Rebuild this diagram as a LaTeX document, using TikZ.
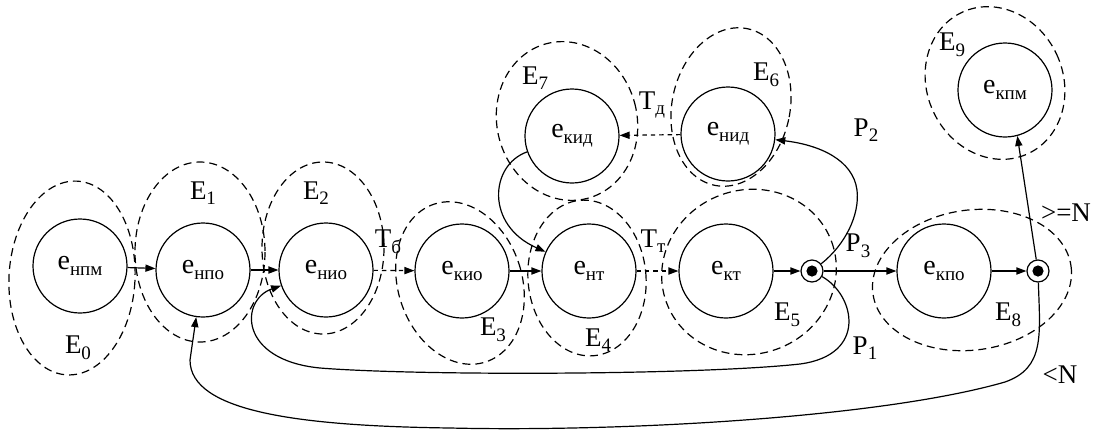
\documentclass[tikz,border=0pt]{standalone}
\usepackage{fontspec}
\setmainfont{Liberation Serif}
\newfontfamily\tnr{Liberation Serif}
\usetikzlibrary{arrows.meta,shapes.geometric}
\newcommand{\lsub}[1]{\raisebox{-2.8pt}{\fontsize{9.5}{10}\selectfont #1}}
\begin{document}
\begin{tikzpicture}[x=0.5pt,y=-0.5pt,
  state/.style={circle,draw,line width=0.6pt,minimum size=47pt,inner sep=0pt,font=\tnr\fontsize{14}{15}\selectfont},
  dotn/.style={circle,draw,line width=0.6pt,minimum size=11pt,inner sep=0pt},
  grp/.style={draw,line width=0.6pt,dash pattern=on 4pt off 2.5pt},
  arr/.style={line width=0.6pt,-{Triangle[length=5pt,width=3.6pt]}},
  darr/.style={arr,dash pattern=on 2.2pt off 2pt},
  lbl/.style={font=\tnr\fontsize{13.5}{14}\selectfont,inner sep=0pt}]
\useasboundingbox (0,0) rectangle (1094,430);
% states
\node[state] (npm) at (80,266) {e\lsub{нпм}};
\node[state] (npo) at (203,270) {e\lsub{нпо}};
\node[state] (nio) at (326,270) {e\lsub{нио}};
\node[state] (kio) at (462,271) {e\lsub{кио}};
\node[state] (nt)  at (589,271) {e\lsub{нт}};
\node[state] (kt)  at (726,271) {e\lsub{кт}};
\node[state] (kpo) at (944,271) {e\lsub{кпо}};
\node[state] (kid) at (572,136) {e\lsub{кид}};
\node[state] (nid) at (728,134) {e\lsub{нид}};
\node[state] (kpm) at (1005,90) {e\lsub{кпм}};
\node[dotn] (d1) at (812,271) {};
\node[dotn] (d2) at (1038,271) {};
\fill (d1) circle (2.8pt);
\fill (d2) circle (2.8pt);
% groups
\draw[grp,shift={(72,278)},rotate=-3] (0,0) ellipse [x radius=63, y radius=97];
\draw[grp,shift={(200,252)}] (0,0) ellipse [x radius=65, y radius=90];
\draw[grp,shift={(323,248)}] (0,0) ellipse [x radius=61, y radius=86];
\draw[grp,shift={(460,283)},rotate=18] (0,0) ellipse [x radius=62, y radius=83];
\draw[grp,shift={(587,278)},rotate=5] (0,0) ellipse [x radius=59, y radius=78];
\draw[grp,shift={(749,272)},rotate=20] (0,0) ellipse [x radius=88, y radius=82];
\draw[grp,shift={(731,107)},rotate=-12] (0,0) ellipse [x radius=59, y radius=80];
\draw[grp,shift={(567,121)},rotate=15] (0,0) ellipse [x radius=70, y radius=80];
\draw[grp,shift={(972,280)},rotate=8] (0,0) ellipse [x radius=100, y radius=70];
\draw[grp,shift={(995,83)},rotate=25] (0,0) ellipse [x radius=68, y radius=78];
% connectors
\draw[arr] (npm) -- (npo);
\draw[arr] (npo) -- (nio);
\draw[darr] (nio) -- (kio);
\draw[arr] (kio) -- (nt);
\draw[darr] (nt) -- (kt);
\draw[arr] (kt) -- (d1);
\draw[arr] (d1) -- (kpo);
\draw[arr] (kpo) -- (d2);
\draw[arr] (d2) -- (kpm.-75);
\draw[darr] (nid) -- (kid);
\draw[arr] (d1) .. controls (845,245) and (860,215) .. (857,190) .. controls (853,160) and (820,145) .. (nid);
\draw[arr] (kid) .. controls (490,165) and (485,225) .. (nt);
\draw[arr] (d1) .. controls (855,295) and (868,355) .. (800,364) .. controls (700,375) and (420,376) .. (320,368) .. controls (238,360) and (240,300) .. (nio);
\draw[arr] (d2) .. controls (1040,335) and (1045,368) .. (1005,382) .. controls (880,418) and (620,432) .. (450,428) .. controls (300,426) and (190,412) .. (190,360) -- (npo);
% labels
\node[lbl] (lE0) at (78,348) {E\lsub{0}};
\node[lbl] (lE1) at (203,193) {E\lsub{1}};
\node[lbl] (lE2) at (316,193) {E\lsub{2}};
\node[lbl] (lE3) at (493,330) {E\lsub{3}};
\node[lbl] (lE4) at (598,340) {E\lsub{4}};
\node[lbl] (lE5) at (787,315) {E\lsub{5}};
\node[lbl] (lE6) at (766,75) {E\lsub{6}};
\node[lbl] (lE7) at (535,78) {E\lsub{7}};
\node[lbl] (lE8) at (1008,315) {E\lsub{8}};
\node[lbl] (lE9) at (952,45) {E\lsub{9}};
\node[lbl] (lTb) at (388,242) {T\lsub{б}};
\node[lbl] (lTt) at (653,241) {T\lsub{т}};
\node[lbl] (lTd) at (652,105) {T\lsub{д}};
\node[lbl] (lP1) at (865,348) {P\lsub{1}};
\node[lbl] (lP2) at (866,130) {P\lsub{2}};
\node[lbl] (lP3) at (858,246) {P\lsub{3}};
\node[lbl] (lgeN) at (1066,213) {>=N};
\node[lbl] (lltN) at (1060,375) {<N};
\end{tikzpicture}
\end{document}
